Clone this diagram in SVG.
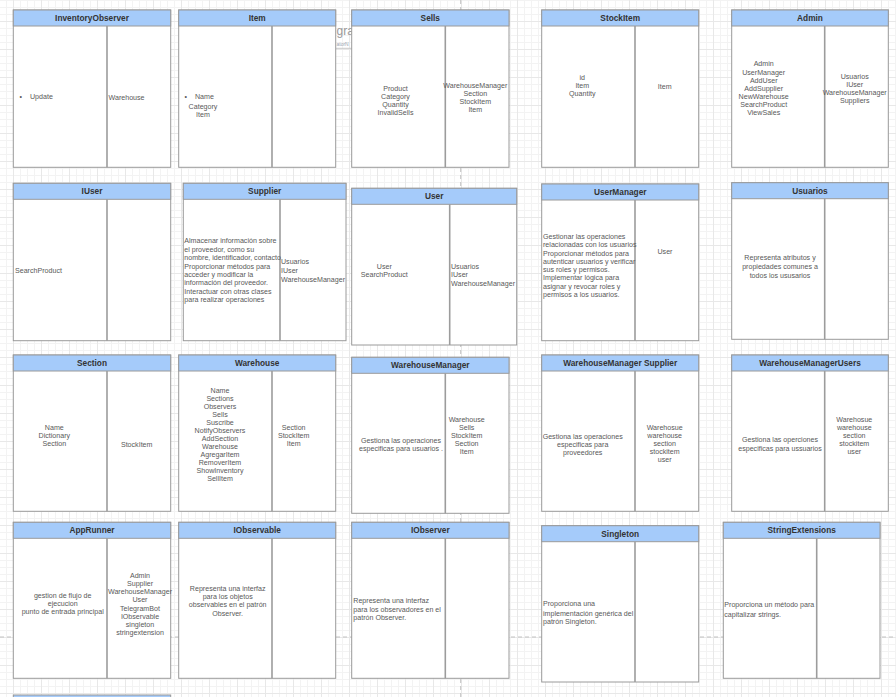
<svg xmlns="http://www.w3.org/2000/svg" width="896" height="697" viewBox="0 0 896 697">
  <defs>
    <pattern id="gridMinor" width="7" height="7" patternUnits="userSpaceOnUse" x="6" y="0">
      <path d="M0 0.5H7M0.5 0V7" fill="none" stroke="#f3f3f3" stroke-width="1"/>
    </pattern>
    <pattern id="gridMajor" width="28" height="28" patternUnits="userSpaceOnUse" x="13" y="21">
      <path d="M0 0.5H28M0.5 0V28" fill="none" stroke="#e8e8e8" stroke-width="1"/>
    </pattern>
    <style>
      .body { fill: #ffffff; stroke: #9a9a9a; stroke-width: 1; }
      .hdr { fill: #a5cbfa; stroke: #9a9a9a; stroke-width: 1; }
      .sep { stroke: #9c9c9c; stroke-width: 1.6; }
      .title { font-family: "Liberation Sans", Arial, sans-serif; font-size: 8.3px; font-weight: bold; fill: #333333; text-anchor: middle; }
      .t { font-family: "Liberation Sans", Arial, sans-serif; font-size: 7.1px; fill: #595959; }
      .c { text-anchor: middle; }
      .page { fill: none; stroke: #c2c2c2; stroke-width: 1; stroke-dasharray: 4 3; }
    </style>
  </defs>

  <!-- canvas background and grid -->
  <rect width="896" height="697" fill="#ffffff"/>
  <rect width="896" height="697" fill="url(#gridMinor)"/>
  <rect width="896" height="697" fill="url(#gridMajor)"/>
  <line class="page" x1="460.7" y1="0" x2="460.7" y2="697"/>
  <line class="page" x1="0" y1="637" x2="896" y2="637"/>

  <!-- title fragment partly hidden behind the Sells table -->
  <g id="title-fragment">
    <text x="336.5" y="34.5" font-family="Liberation Sans, Arial, sans-serif" font-size="12" fill="#9a9a9a">gra</text>
    <text x="336.5" y="45.5" font-family="Liberation Sans, Arial, sans-serif" font-size="5" fill="#9aa4b0">atorN</text>
    <line x1="336" y1="48.3" x2="352" y2="48.3" stroke="#c8c8c8" stroke-width="1"/>
  </g>

  <g id="connectors"></g>

  <!-- Row 1 -->
  <g id="inventory-observer">
    <rect class="body" x="13.3" y="10" width="157.4" height="157.3"/>
    <rect class="hdr" x="13.3" y="10" width="157.4" height="16"/>
    <line class="sep" x1="107" y1="26" x2="107" y2="167.3"/>
    <text class="title" x="92" y="21">InventoryObserver</text>
    <text class="t" x="19.5" y="99.2">•</text>
    <text class="t" x="30" y="99.2">Update</text>
    <text class="t" x="108.5" y="100.2">Warehouse</text>
  </g>

  <g id="item">
    <rect class="body" x="178.7" y="10" width="157" height="157.3"/>
    <rect class="hdr" x="178.7" y="10" width="157" height="16"/>
    <line class="sep" x1="272" y1="26" x2="272" y2="167.3"/>
    <text class="title" x="257.2" y="21">Item</text>
    <text class="t" x="184.5" y="99.2">•</text>
    <text class="t" x="195" y="99.2">Name</text>
    <text class="t c" x="203" y="109.2">Category</text>
    <text class="t c" x="203" y="117.2">Item</text>
  </g>

  <g id="sells">
    <rect class="body" x="351.7" y="10" width="157.3" height="157.3"/>
    <rect class="hdr" x="351.7" y="10" width="157.3" height="16"/>
    <line class="sep" x1="445.3" y1="26" x2="445.3" y2="167.3"/>
    <text class="title" x="430.3" y="21">Sells</text>
    <text class="t c" x="395.5" y="90.8">Product</text>
    <text class="t c" x="395.5" y="99.2">Category</text>
    <text class="t c" x="395.5" y="107.2">Quantity</text>
    <text class="t c" x="395.5" y="115.2">InvalidSells</text>
    <text class="t c" x="475.3" y="88.2">WarehouseManager</text>
    <text class="t c" x="475.3" y="96.2">Section</text>
    <text class="t c" x="475.3" y="104.2">StockItem</text>
    <text class="t c" x="475.3" y="112.2">Item</text>
  </g>

  <g id="stock-item">
    <rect class="body" x="541.7" y="10" width="157" height="157.3"/>
    <rect class="hdr" x="541.7" y="10" width="157" height="16"/>
    <line class="sep" x1="635" y1="26" x2="635" y2="167.3"/>
    <text class="title" x="620.2" y="21">StockItem</text>
    <text class="t c" x="582.3" y="79.8">id</text>
    <text class="t c" x="582.3" y="88.2">Item</text>
    <text class="t c" x="582.3" y="96.2">Quantity</text>
    <text class="t c" x="664.7" y="89.2">Item</text>
  </g>

  <g id="admin">
    <rect class="body" x="731.7" y="10" width="156.6" height="157.3"/>
    <rect class="hdr" x="731.7" y="10" width="156.6" height="16"/>
    <line class="sep" x1="824.7" y1="26" x2="824.7" y2="167.3"/>
    <text class="title" x="810" y="21">Admin</text>
    <text class="t c" x="763.7" y="65.8">Admin</text>
    <text class="t c" x="763.7" y="74.8">UserManager</text>
    <text class="t c" x="763.7" y="82.8">AddUser</text>
    <text class="t c" x="763.7" y="90.8">AddSupplier</text>
    <text class="t c" x="763.7" y="99.2">NewWarehouse</text>
    <text class="t c" x="763.7" y="107.2">SearchProduct</text>
    <text class="t c" x="763.7" y="115.2">ViewSales</text>
    <text class="t c" x="854.7" y="78.8">Usuarios</text>
    <text class="t c" x="854.7" y="86.8">IUser</text>
    <text class="t c" x="854.7" y="94.8">WarehouseManager</text>
    <text class="t c" x="854.7" y="102.8">Suppliers</text>
  </g>

  <!-- Row 2 -->
  <g id="iuser">
    <rect class="body" x="13.3" y="183.3" width="157.4" height="157.4"/>
    <rect class="hdr" x="13.3" y="183.3" width="157.4" height="16"/>
    <line class="sep" x1="107" y1="199.3" x2="107" y2="340.7"/>
    <text class="title" x="92" y="194.3">IUser</text>
    <text class="t" x="15" y="273.2">SearchProduct</text>
  </g>

  <g id="supplier">
    <rect class="body" x="183.3" y="183.3" width="162.7" height="157.4"/>
    <rect class="hdr" x="183.3" y="183.3" width="162.7" height="16"/>
    <line class="sep" x1="280" y1="199.3" x2="280" y2="340.7"/>
    <text class="title" x="264.7" y="194.3">Supplier</text>
    <text class="t" x="184.3" y="243.2">Almacenar información sobre</text>
    <text class="t" x="184.3" y="251.6">el proveedor, como su</text>
    <text class="t" x="184.3" y="260.1">nombre, identificador, contacto</text>
    <text class="t" x="184.3" y="268.5">Proporcionar métodos para</text>
    <text class="t" x="184.3" y="276.9">acceder y modificar la</text>
    <text class="t" x="184.3" y="285.4">información del proveedor.</text>
    <text class="t" x="184.3" y="293.8">Interactuar con otras clases</text>
    <text class="t" x="184.3" y="302.2">para realizar operaciones</text>
    <text class="t" x="281" y="264.2">Usuarios</text>
    <text class="t" x="281" y="273.2">IUser</text>
    <text class="t" x="281" y="282.2">WarehouseManager</text>
  </g>

  <g id="user">
    <rect class="body" x="351.7" y="188.3" width="165" height="156.7"/>
    <rect class="hdr" x="351.7" y="188.3" width="165" height="16"/>
    <line class="sep" x1="449.7" y1="204.3" x2="449.7" y2="345"/>
    <text class="title" x="434.2" y="199.3">User</text>
    <text class="t c" x="384.3" y="268.5">User</text>
    <text class="t c" x="384.3" y="276.8">SearchProduct</text>
    <text class="t" x="451" y="268.5">Usuarios</text>
    <text class="t" x="451" y="277.3">IUser</text>
    <text class="t" x="451" y="286.1">WarehouseManager</text>
  </g>

  <g id="user-manager">
    <rect class="body" x="541.7" y="184" width="157" height="156.7"/>
    <rect class="hdr" x="541.7" y="184" width="157" height="16"/>
    <line class="sep" x1="635" y1="200" x2="635" y2="340.7"/>
    <text class="title" x="620.2" y="195">UserManager</text>
    <text class="t" x="543" y="239.2">Gestionar las operaciones</text>
    <text class="t" x="543" y="247.4">relacionadas con los usuarios</text>
    <text class="t" x="543" y="255.7">Proporcionar métodos para</text>
    <text class="t" x="543" y="263.9">autenticar usuarios y verificar</text>
    <text class="t" x="543" y="272.1">sus roles y permisos.</text>
    <text class="t" x="543" y="280.4">Implementar lógica para</text>
    <text class="t" x="543" y="288.6">asignar y revocar roles y</text>
    <text class="t" x="543" y="296.8">permisos a los usuarios.</text>
    <text class="t c" x="665" y="254.2">User</text>
  </g>

  <g id="usuarios">
    <rect class="body" x="731.7" y="182.7" width="156.6" height="156.6"/>
    <rect class="hdr" x="731.7" y="182.7" width="156.6" height="16"/>
    <line class="sep" x1="824.7" y1="198.7" x2="824.7" y2="339.3"/>
    <text class="title" x="810" y="193.7">Usuarios</text>
    <text class="t c" x="780" y="260.2">Representa atributos y</text>
    <text class="t c" x="780" y="269.2">propiedades comunes a</text>
    <text class="t c" x="780" y="277.8">todos los ususarios</text>
  </g>

  <!-- Row 3 -->
  <g id="section">
    <rect class="body" x="13.3" y="355" width="157.4" height="156.3"/>
    <rect class="hdr" x="13.3" y="355" width="157.4" height="16"/>
    <line class="sep" x1="107" y1="371" x2="107" y2="511.3"/>
    <text class="title" x="92" y="366">Section</text>
    <text class="t c" x="54.3" y="429.8">Name</text>
    <text class="t c" x="54.3" y="437.8">Dictionary</text>
    <text class="t c" x="54.3" y="445.8">Section</text>
    <text class="t c" x="136.7" y="446.8">StockItem</text>
  </g>

  <g id="warehouse">
    <rect class="body" x="178.7" y="355" width="157" height="156.3"/>
    <rect class="hdr" x="178.7" y="355" width="157" height="16"/>
    <line class="sep" x1="272" y1="371" x2="272" y2="511.3"/>
    <text class="title" x="257.2" y="366">Warehouse</text>
    <text class="t c" x="220" y="392.8">Name</text>
    <text class="t c" x="220" y="400.8">Sections</text>
    <text class="t c" x="220" y="408.8">Observers</text>
    <text class="t c" x="220" y="416.8">Sells</text>
    <text class="t c" x="220" y="424.8">Suscribe</text>
    <text class="t c" x="220" y="432.8">NotifyObservers</text>
    <text class="t c" x="220" y="440.8">AddSection</text>
    <text class="t c" x="220" y="448.8">Warehouse</text>
    <text class="t c" x="220" y="456.8">AgregarItem</text>
    <text class="t c" x="220" y="464.8">RemoverItem</text>
    <text class="t c" x="220" y="472.8">ShowInventory</text>
    <text class="t c" x="220" y="480.8">SellItem</text>
    <text class="t c" x="293.7" y="429.8">Section</text>
    <text class="t c" x="293.7" y="437.8">StockItem</text>
    <text class="t c" x="293.7" y="445.8">Item</text>
  </g>

  <g id="warehouse-manager">
    <rect class="body" x="351.7" y="357.3" width="157.3" height="156"/>
    <rect class="hdr" x="351.7" y="357.3" width="157.3" height="16"/>
    <line class="sep" x1="445.3" y1="373.3" x2="445.3" y2="513.3"/>
    <text class="title" x="430.3" y="368.3">WarehouseManager</text>
    <text class="t c" x="401" y="443.2">Gestiona las operaciones</text>
    <text class="t c" x="401" y="451.2">especificas para usuarios .</text>
    <text class="t c" x="466.7" y="421.8">Warehouse</text>
    <text class="t c" x="466.7" y="429.8">Sells</text>
    <text class="t c" x="466.7" y="437.8">StockItem</text>
    <text class="t c" x="466.7" y="445.8">Section</text>
    <text class="t c" x="466.7" y="453.8">Item</text>
  </g>

  <g id="warehouse-manager-supplier">
    <rect class="body" x="541.7" y="355" width="157" height="156.3"/>
    <rect class="hdr" x="541.7" y="355" width="157" height="16"/>
    <line class="sep" x1="635" y1="371" x2="635" y2="511.3"/>
    <text class="title" x="620.2" y="366">WarehouseManager Supplier</text>
    <text class="t c" x="582.7" y="438.8">Gestiona las operaciones</text>
    <text class="t c" x="582.7" y="446.8">especificas para</text>
    <text class="t c" x="582.7" y="454.8">proveedores</text>
    <text class="t c" x="664.7" y="429.8">Warehosue</text>
    <text class="t c" x="664.7" y="437.8">warehouse</text>
    <text class="t c" x="664.7" y="445.8">section</text>
    <text class="t c" x="664.7" y="453.8">stockitem</text>
    <text class="t c" x="664.7" y="461.8">user</text>
  </g>

  <g id="warehouse-manager-users">
    <rect class="body" x="731.7" y="355" width="156.6" height="156.3"/>
    <rect class="hdr" x="731.7" y="355" width="156.6" height="16"/>
    <line class="sep" x1="824.7" y1="371" x2="824.7" y2="511.3"/>
    <text class="title" x="810" y="366">WarehouseManagerUsers</text>
    <text class="t c" x="780" y="442.2">Gestiona las operciones</text>
    <text class="t c" x="780" y="451.2">especificas para ussuarios</text>
    <text class="t c" x="854.3" y="421.8">Warehosue</text>
    <text class="t c" x="854.3" y="429.8">warehouse</text>
    <text class="t c" x="854.3" y="437.8">section</text>
    <text class="t c" x="854.3" y="445.8">stockitem</text>
    <text class="t c" x="854.3" y="453.8">user</text>
  </g>

  <!-- Row 4 -->
  <g id="app-runner">
    <rect class="body" x="13.3" y="522.3" width="157.4" height="156"/>
    <rect class="hdr" x="13.3" y="522.3" width="157.4" height="16"/>
    <line class="sep" x1="107" y1="538.3" x2="107" y2="678.3"/>
    <text class="title" x="92" y="533.3">AppRunner</text>
    <text class="t c" x="62.7" y="597.5">gestion de flujo de</text>
    <text class="t c" x="62.7" y="606.2">ejecucion</text>
    <text class="t c" x="62.7" y="614.2">punto de entrada principal</text>
    <text class="t c" x="140" y="577.8">Admin</text>
    <text class="t c" x="140" y="586">Supplier</text>
    <text class="t c" x="140" y="594.2">WarehouseManager</text>
    <text class="t c" x="140" y="602.4">User</text>
    <text class="t c" x="140" y="610.6">TelegramBot</text>
    <text class="t c" x="140" y="618.8">IObservable</text>
    <text class="t c" x="140" y="627">singleton</text>
    <text class="t c" x="140" y="635.2">stringextension</text>
  </g>

  <g id="iobservable">
    <rect class="body" x="178.7" y="522.3" width="157" height="156"/>
    <rect class="hdr" x="178.7" y="522.3" width="157" height="16"/>
    <line class="sep" x1="272" y1="538.3" x2="272" y2="678.3"/>
    <text class="title" x="257.2" y="533.3">IObservable</text>
    <text class="t c" x="227.7" y="590.8">Representa una interfaz</text>
    <text class="t c" x="227.7" y="599.2">para los objetos</text>
    <text class="t c" x="227.7" y="607.2">observables en el patrón</text>
    <text class="t c" x="227.7" y="615.8">Observer.</text>
  </g>

  <g id="iobserver">
    <rect class="body" x="351.7" y="522.3" width="157.3" height="156"/>
    <rect class="hdr" x="351.7" y="522.3" width="157.3" height="16"/>
    <line class="sep" x1="445.3" y1="538.3" x2="445.3" y2="678.3"/>
    <text class="title" x="430.3" y="533.3">IObserver</text>
    <text class="t" x="353.3" y="603.2">Representa una interfaz</text>
    <text class="t" x="353.3" y="611.5">para los observadores en el</text>
    <text class="t" x="353.3" y="620.2">patrón Observer.</text>
  </g>

  <g id="singleton">
    <rect class="body" x="541.7" y="525.7" width="157" height="156.3"/>
    <rect class="hdr" x="541.7" y="525.7" width="157" height="16"/>
    <line class="sep" x1="635" y1="541.7" x2="635" y2="682"/>
    <text class="title" x="620.2" y="536.7">Singleton</text>
    <text class="t" x="543" y="606.2">Proporciona una</text>
    <text class="t" x="543" y="615.5">implementación genérica del</text>
    <text class="t" x="543" y="623.8">patrón Singleton.</text>
  </g>

  <g id="string-extensions">
    <rect class="body" x="723.3" y="522.3" width="156.7" height="156"/>
    <rect class="hdr" x="723.3" y="522.3" width="156.7" height="16"/>
    <line class="sep" x1="816.7" y1="538.3" x2="816.7" y2="678.3"/>
    <text class="title" x="801.7" y="533.3">StringExtensions</text>
    <text class="t" x="724.3" y="607.2">Proporciona un método para</text>
    <text class="t" x="724.3" y="616.5">capitalizar strings.</text>
  </g>

  <!-- table continuing below the visible area -->
  <g id="table-below">
    <rect class="hdr" x="13.3" y="695" width="157.4" height="16"/>
  </g>
</svg>
